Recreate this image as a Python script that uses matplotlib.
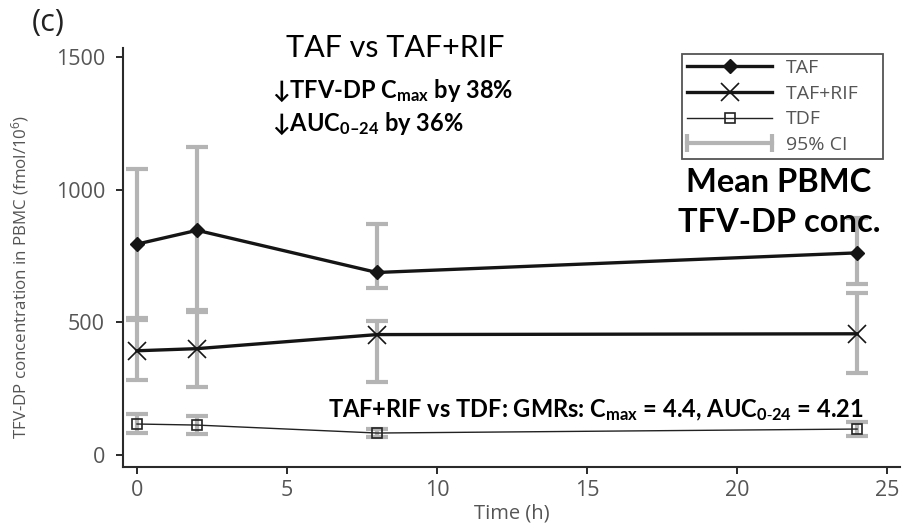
import matplotlib
matplotlib.use('Agg')
import matplotlib.pyplot as plt
from matplotlib.lines import Line2D
from matplotlib.legend_handler import HandlerLine2D

# data
times = [0, 2, 8, 24]
taf = [795, 847, 688, 762]
taf_lo = [510, 540, 631, 643]
taf_hi = [1077, 1162, 869, 895]
tafrif = [393, 401, 454, 457]
tafrif_lo = [283, 257, 276, 310]
tafrif_hi = [515, 545, 506, 609]
tdf = [117, 113, 83, 98]
tdf_lo = [83, 79, 68, 72]
tdf_hi = [155, 147, 98, 125]

xticks = [0, 5, 10, 15, 20, 25]
yticks = [0, 500, 1000, 1500]
labels = ['TAF', 'TAF+RIF    ', 'TDF', '95% CI']

plt.rcParams['mathtext.fontset'] = 'custom'
plt.rcParams['mathtext.rm'] = 'Open Sans'
plt.rcParams['mathtext.it'] = 'Open Sans:italic'
plt.rcParams['mathtext.bf'] = 'Lato:bold'

GREY = '#b4b4b4'
TXT = '#555555'
W, H = 904, 530

fig = plt.figure(figsize=(W / 100, H / 100), dpi=100)
ax = fig.add_axes([123 / W, 1 - 467 / H, (900 - 123) / W, (467 - 48) / H])


def ci(vals, lo, hi):
    ax.errorbar(times, vals, yerr=[[v - l for v, l in zip(vals, lo)], [h - v for v, h in zip(vals, hi)]],
                fmt='none', ecolor=GREY, elinewidth=3, capsize=8, capthick=3, zorder=1)


ci(taf, taf_lo, taf_hi)
ci(tafrif, tafrif_lo, tafrif_hi)
ci(tdf, tdf_lo, tdf_hi)

l1, = ax.plot(times, taf, color='#151515', lw=2.4, marker='D', ms=7, zorder=3)
l2, = ax.plot(times, tafrif, color='#151515', lw=2.4, marker='x', ms=13, mew=1.2, zorder=3)
l3, = ax.plot(times, tdf, color='#222222', lw=1, marker='s', ms=7, mfc='none', mew=1.2, zorder=3)
l4 = Line2D([], [], color=GREY, lw=3, marker='|', ms=13, mew=3)

ax.set_xlim(-0.467, 25.43)
ax.set_ylim(-45, 1534)
ax.set_xticks(xticks)
ax.set_yticks(yticks)
for s in ['top', 'right']:
    ax.spines[s].set_visible(False)
for s in ['left', 'bottom']:
    ax.spines[s].set_linewidth(1.5)
    ax.spines[s].set_color('#2a2a2a')
ax.tick_params(length=5, width=1.4, color='#2a2a2a', labelsize=15.5, labelcolor=TXT)
ax.tick_params(axis='y', pad=8)
ax.tick_params(axis='x', pad=4)
for lab in ax.get_xticklabels() + ax.get_yticklabels():
    lab.set_family('Open Sans')
ax.set_xlabel('Time (h)', fontsize=14.5, color=TXT, family='Open Sans', labelpad=2)
ax.set_ylabel('TFV-DP concentration in PBMC (fmol/10$\\mathrm{^{6}}$)', fontsize=12.2,
              color=TXT, family='Open Sans')
ax.yaxis.set_label_coords(-0.118, 0.453)

leg = ax.legend([l1, l2, l3, l4], labels,
                handler_map={l4: HandlerLine2D(numpoints=2, marker_pad=0)},
                numpoints=1, loc='upper left', bbox_to_anchor=(682 / W, 1 - 54 / H),
                bbox_transform=fig.transFigure, borderaxespad=0, fancybox=False,
                handlelength=4.4, handletextpad=0.7, labelspacing=0.4, borderpad=0.25,
                prop={'family': 'Open Sans', 'size': 14})
leg.get_frame().set_edgecolor('#2a2a2a')
leg.get_frame().set_linewidth(1.3)
for t in leg.get_texts():
    t.set_color(TXT)

fam = ['Lato', 'DejaVu Sans']
fig.text(32 / W, 1 - 31 / H, '(c)', fontsize=22, family='Open Sans', color='#222222', va='baseline')
fig.text(395 / W, 1 - 57 / H, 'TAF vs TAF+RIF', fontsize=22, family=fam, ha='center', va='baseline')
fig.text(272 / W, 1 - 98 / H, '\u2193TFV-DP C$_{\\mathbf{max}}$ by 38%', fontsize=17,
         family=fam, weight='bold', va='baseline')
fig.text(272 / W, 1 - 131 / H, '\u2193AUC$_{\\mathbf{0\u201324}}$ by 36%', fontsize=17,
         family=fam, weight='bold', va='baseline')
fig.text(779 / W, 1 - 192 / H, 'Mean PBMC', fontsize=23.5, family=fam, weight='bold',
         ha='center', va='baseline')
fig.text(779 / W, 1 - 232 / H, 'TFV-DP conc.', fontsize=23.5, family=fam, weight='bold',
         ha='center', va='baseline')
fig.text(596 / W, 1 - 417 / H,
         'TAF+RIF vs TDF: GMRs: C$_{\\mathbf{max}}$ = 4.4, AUC$_{\\mathbf{0\\text{-}24}}$ = 4.21',
         fontsize=17, family=fam, weight='bold', ha='center', va='baseline')

fig.savefig('out.png', dpi=100)
